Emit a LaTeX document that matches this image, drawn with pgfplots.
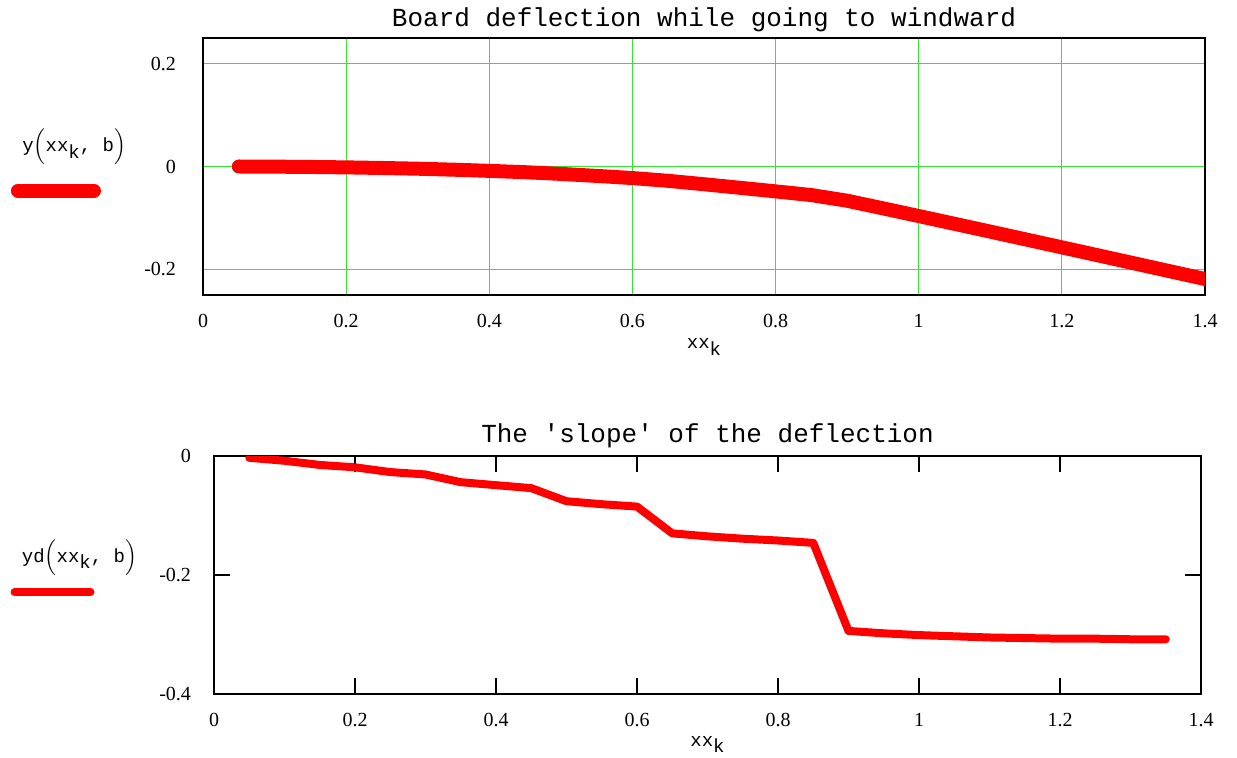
\documentclass[border=0pt]{standalone}
\usepackage{fontspec}
\setmainfont{Liberation Serif}
\setmonofont{Liberation Mono}
\usepackage{pgfplots}
\usepackage{pgfplotstable}
\pgfplotsset{compat=1.18}
\definecolor{gridgreen}{RGB}{50,230,50}
\definecolor{mcred}{RGB}{255,0,0}

\pgfplotstableread{
x y
0.05 0.0000
0.10 -0.0003
0.15 -0.0009
0.20 -0.0017
0.25 -0.0029
0.30 -0.0043
0.35 -0.0062
0.40 -0.0085
0.45 -0.0111
0.50 -0.0144
0.55 -0.0183
0.60 -0.0225
0.65 -0.0279
0.70 -0.0345
0.75 -0.0414
0.80 -0.0484
0.85 -0.0556
0.90 -0.0666
0.95 -0.0814
1.00 -0.0964
1.05 -0.1115
1.10 -0.1267
1.15 -0.1420
1.20 -0.1573
1.25 -0.1727
1.30 -0.1881
1.35 -0.2035
1.40 -0.2189
}\deflection

\pgfplotstableread{
x yd
0.05 -0.003
0.10 -0.008
0.15 -0.015
0.20 -0.019
0.25 -0.027
0.30 -0.031
0.35 -0.044
0.40 -0.049
0.45 -0.054
0.50 -0.076
0.55 -0.081
0.60 -0.085
0.65 -0.130
0.70 -0.135
0.75 -0.139
0.80 -0.142
0.85 -0.146
0.90 -0.294
0.95 -0.298
1.00 -0.301
1.05 -0.303
1.10 -0.305
1.15 -0.306
1.20 -0.307
1.25 -0.307
1.30 -0.308
1.35 -0.308
}\slope

\pgfplotsset{
  mcadstyle/.style={
    scale only axis,
    anchor=north west,
    xmin=0, xmax=1.4,
    xtick={0,0.2,0.4,0.6,0.8,1,1.2,1.4},
    /pgf/number format/assume math mode=true,
    /pgf/number format/fixed,
    tick label style={font=\fontsize{10bp}{12bp}\selectfont},
    axis line style={line width=1bp, black},
    every axis title shift=0pt,
    title style={font=\ttfamily\fontsize{13bp}{15bp}\selectfont, at={(0.5,1)}, anchor=base},
    every axis x label/.style={at={(0.5,0)}, anchor=base, font=\fontsize{9.5bp}{11bp}\selectfont},
    every axis y label/.style={at={(0,0.5)}, anchor=east, font=\fontsize{9.5bp}{11bp}\selectfont},
    xticklabel style={yshift=-6bp},
  }
}

\begin{document}
\begin{tikzpicture}
\useasboundingbox (0,0) rectangle (618.5bp,-379bp);
\begin{axis}[mcadstyle,
  at={(101.5bp,-19bp)},
  width=501bp, height=128.5bp,
  ymin=-0.25, ymax=0.25,
  ytick={-0.2,0,0.2},
  grid=major, major grid style={gridgreen, line width=0.6bp},
  major tick length=0,
  yticklabel style={xshift=-10bp},
  title={Board deflection while going to windward},
  title style={yshift=6bp},
  xlabel={\ttfamily xx\raisebox{-0.35em}{k}},
  x label style={yshift=-27bp},
  ylabel={\begin{tabular}{@{}l@{}}\ttfamily\ y$\Bigl($xx\raisebox{-0.35em}{k}, b$\Bigr)$\\[12bp]\tikz\draw[mcred, line width=7bp, line cap=round] (0,0) -- (38bp,0);\end{tabular}},
  y label style={xshift=-35bp},
]
\addplot[mcred, line width=7bp, line cap=round, line join=round] table[x=x, y=y] {\deflection};
\end{axis}

\begin{axis}[mcadstyle,
  at={(107bp,-228bp)},
  width=493.5bp, height=119bp,
  ymin=-0.4, ymax=0,
  ytick={-0.4,-0.2,0},
  tick align=inside, major tick length=8bp,
  tick style={black, line width=0.6bp},
  yticklabel style={xshift=-8bp},
  title={The 'slope' of the deflection},
  title style={yshift=7bp},
  xlabel={\ttfamily xx\raisebox{-0.35em}{k}},
  x label style={yshift=-26bp},
  ylabel={\begin{tabular}{@{}l@{}}\ttfamily\ yd$\Bigl($xx\raisebox{-0.35em}{k}, b$\Bigr)$\\[6bp]\tikz\draw[mcred, line width=4bp, line cap=round] (0,0) -- (38bp,0);\end{tabular}},
  y label style={xshift=-35bp, yshift=2bp},
]
\addplot[mcred, line width=4bp, line cap=round, line join=round] table[x=x, y=yd] {\slope};
\end{axis}
\end{tikzpicture}
\end{document}
